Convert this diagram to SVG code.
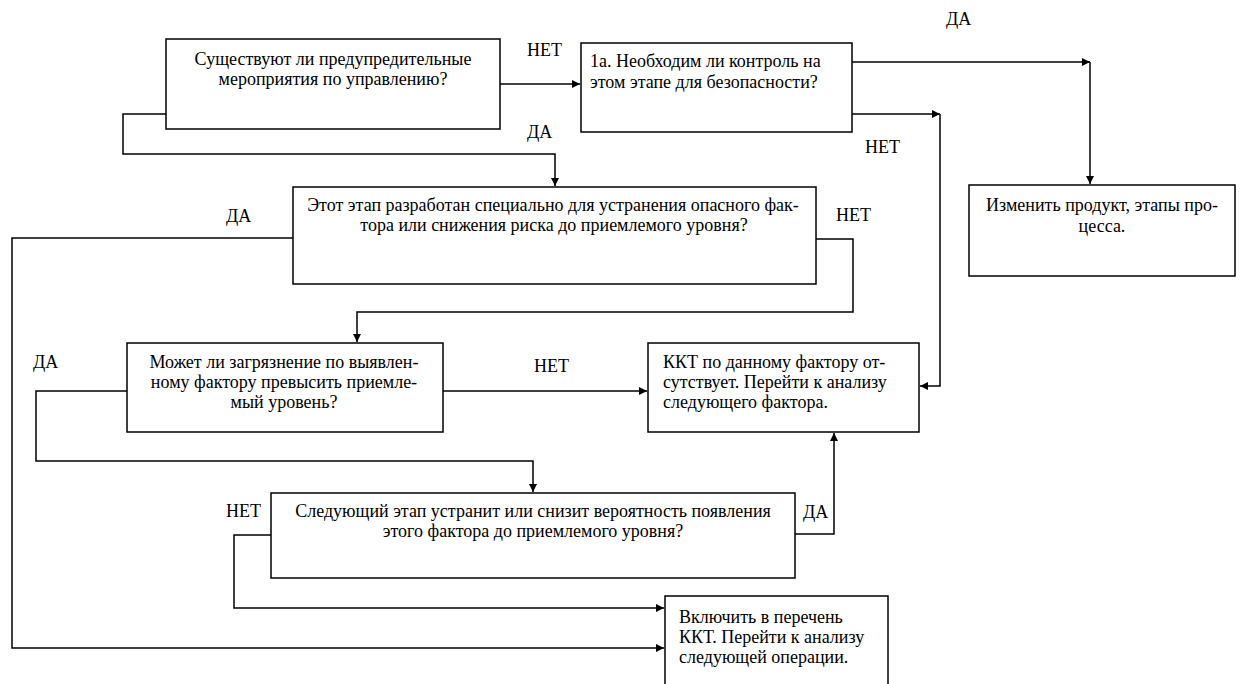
<svg xmlns="http://www.w3.org/2000/svg" width="1243" height="684" viewBox="0 0 1243 684">
<defs>
<style>
.box{fill:#fff;stroke:#000;stroke-width:1.5}
.t{font-family:"Liberation Serif","Times New Roman",serif;font-size:18px;fill:#000}
.c{text-anchor:middle}
.ln{fill:none;stroke:#000;stroke-width:1.5}
</style>
<marker id="ah" viewBox="0 0 10 10" refX="10" refY="5" markerWidth="8" markerHeight="8" markerUnits="userSpaceOnUse" orient="auto">
<path d="M0,0 L10,5 L0,10 z" fill="#000"/>
</marker>
</defs>
<rect width="1243" height="684" fill="#fff"/>
<g id="connectors">
<path class="ln" d="M500,84 H580" marker-end="url(#ah)"/>
<path class="ln" d="M166,114 H123 V154 H555 V186" marker-end="url(#ah)"/>
<path class="ln" d="M852,62 H1090" marker-end="url(#ah)"/>
<path class="ln" d="M1090,62 V184" marker-end="url(#ah)"/>
<path class="ln" d="M852,114 H940" marker-end="url(#ah)"/>
<path class="ln" d="M940,114 V386 H920" marker-end="url(#ah)"/>
<path class="ln" d="M293,238 H12 V648 H664" marker-end="url(#ah)"/>
<path class="ln" d="M816,239 H853 V312 H357 V342" marker-end="url(#ah)"/>
<path class="ln" d="M443,391 H647" marker-end="url(#ah)"/>
<path class="ln" d="M127,391 H36 V461 H533 V492" marker-end="url(#ah)"/>
<path class="ln" d="M795,534 H834 V433" marker-end="url(#ah)"/>
<path class="ln" d="M271,535 H234 V608 H664" marker-end="url(#ah)"/>
<text class="t" x="527" y="56">НЕТ</text>
<text class="t" x="527" y="138">ДА</text>
<text class="t" x="946" y="25">ДА</text>
<text class="t" x="865" y="153">НЕТ</text>
<text class="t" x="226" y="222">ДА</text>
<text class="t" x="836" y="221">НЕТ</text>
<text class="t" x="33" y="368">ДА</text>
<text class="t" x="534" y="372">НЕТ</text>
<text class="t" x="226" y="517">НЕТ</text>
<text class="t" x="803" y="518">ДА</text>
</g>
<g id="n1">
<rect class="box" x="166" y="39" width="334" height="90"/>
<text class="t c" x="333" y="65">Существуют ли предупредительные</text>
<text class="t c" x="333" y="85">мероприятия по управлению?</text>
</g>
<g id="n2">
<rect class="box" x="581" y="43" width="271" height="89"/>
<text class="t" x="590" y="67">1а. Необходим ли контроль на</text>
<text class="t" x="590" y="88">этом этапе для безопасности?</text>
</g>
<g id="n3">
<rect class="box" x="969" y="185" width="266" height="91"/>
<text class="t c" x="1102" y="211">Изменить продукт, этапы про-</text>
<text class="t c" x="1102" y="232">цесса.</text>
</g>
<g id="n4">
<rect class="box" x="293" y="187" width="523" height="97"/>
<text class="t c" x="553" y="211">Этот этап разработан специально для устранения опасного фак-</text>
<text class="t c" x="554" y="231">тора или снижения риска до приемлемого уровня?</text>
</g>
<g id="n5">
<rect class="box" x="127" y="343" width="316" height="89"/>
<text class="t c" x="284" y="368">Может ли загрязнение по выявлен-</text>
<text class="t c" x="284" y="388">ному фактору превысить приемле-</text>
<text class="t c" x="284" y="408">мый уровень?</text>
</g>
<g id="n6">
<rect class="box" x="648" y="343" width="271" height="89"/>
<text class="t" x="663" y="368">ККТ по данному фактору от-</text>
<text class="t" x="663" y="388">сутствует. Перейти к анализу</text>
<text class="t" x="663" y="408">следующего фактора.</text>
</g>
<g id="n7">
<rect class="box" x="271" y="493" width="524" height="85"/>
<text class="t c" x="533" y="517">Следующий этап устранит или снизит вероятность появления</text>
<text class="t c" x="533" y="537">этого фактора до приемлемого уровня?</text>
</g>
<g id="n8">
<rect class="box" x="665" y="596" width="223" height="110"/>
<text class="t" x="679" y="623">Включить в перечень</text>
<text class="t" x="679" y="643">ККТ. Перейти к анализу</text>
<text class="t" x="679" y="663">следующей операции.</text>
</g>
</svg>
